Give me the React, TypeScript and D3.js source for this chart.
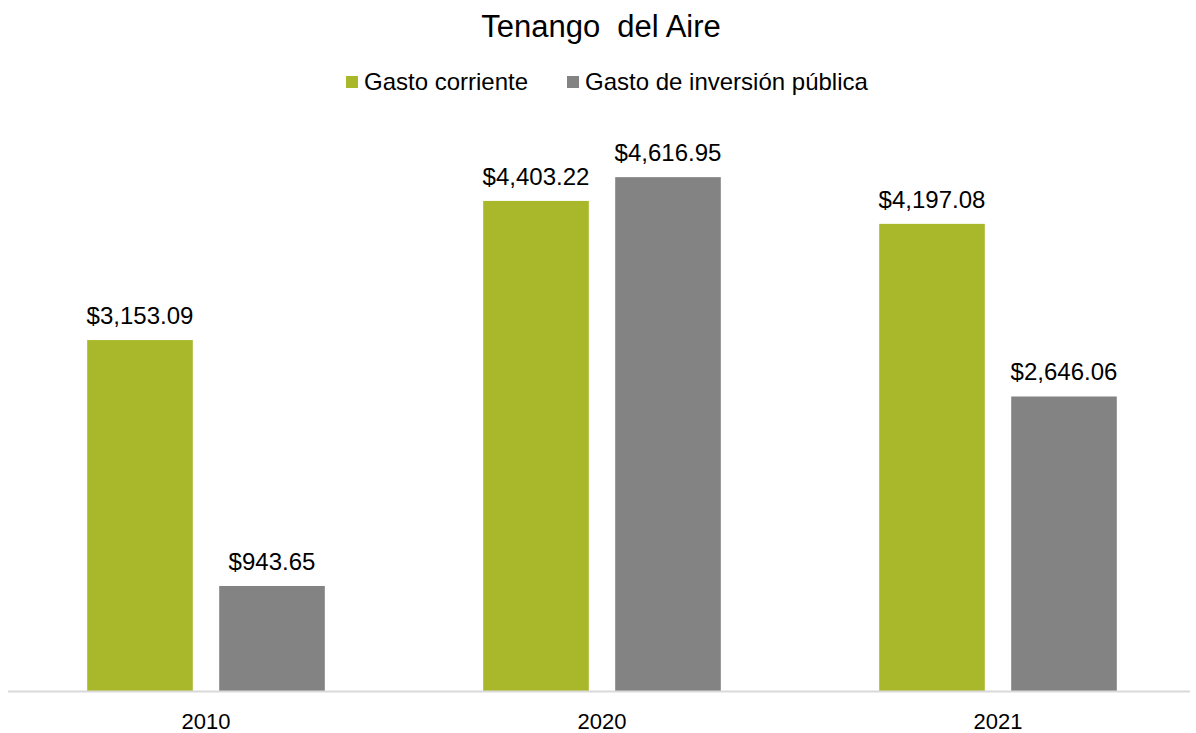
import React from 'react';
import * as d3 from 'd3';

const years = ['2010', '2020', '2021'];
const seriesNames = ['Gasto corriente', 'Gasto de inversión pública'];
const gastoCorriente = [3153.09, 4403.22, 4197.08];
const gastoInversion = [943.65, 4616.95, 2646.06];
const colors = ['#A8B82A', '#838383'];

const width = 1196;
const height = 733;
const baseline = 691;

const fmt = (v: number) => '$' + d3.format(',.2f')(v);

export default function App() {
  const x = d3.scaleBand().domain(years).range([8, 1196]);
  const xInner = d3.scaleBand().domain(seriesNames).range([0, x.step()]).paddingInner(0.2).paddingOuter(0.6);
  const y = d3.scaleLinear().domain([0, 5000]).range([baseline, baseline - 556.5]);
  const values = [gastoCorriente, gastoInversion];

  return (
    <svg width={width} height={height} style={{ position: 'absolute', left: 0, top: 0, fontFamily: '"Liberation Sans", Arial, sans-serif' }}>
      <rect width={width} height={height} fill="#fff" />
      <text x={601} y={37} textAnchor="middle" fontSize={31} fill="#000" style={{ whiteSpace: 'pre' }}>Tenango  del Aire</text>

      <g>
        <rect x={346} y={76} width={12} height={12} fill={colors[0]} />
        <text x={364} y={90} fontSize={24} fill="#000">{seriesNames[0]}</text>
        <rect x={567} y={76} width={12} height={12} fill={colors[1]} />
        <text x={585} y={90} fontSize={24} fill="#000">{seriesNames[1]}</text>
      </g>

      {years.map((yr, i) => (
        <g key={yr} transform={`translate(${x(yr)},0)`}>
          {seriesNames.map((s, j) => {
            const v = values[j][i];
            const bx = xInner(s)!;
            const bw = xInner.bandwidth();
            return (
              <g key={s}>
                <rect x={bx} y={y(v)} width={bw} height={baseline - y(v)} fill={colors[j]} />
                <text x={bx + bw / 2} y={y(v) - 16} textAnchor="middle" fontSize={24} fill="#000">{fmt(v)}</text>
              </g>
            );
          })}
          <text x={x.bandwidth() / 2} y={729} textAnchor="middle" fontSize={22} fill="#000">{yr}</text>
        </g>
      ))}

      <line x1={8} x2={1190} y1={baseline + 0.5} y2={baseline + 0.5} stroke="#D9D9D9" strokeWidth={2} />
    </svg>
  );
}
